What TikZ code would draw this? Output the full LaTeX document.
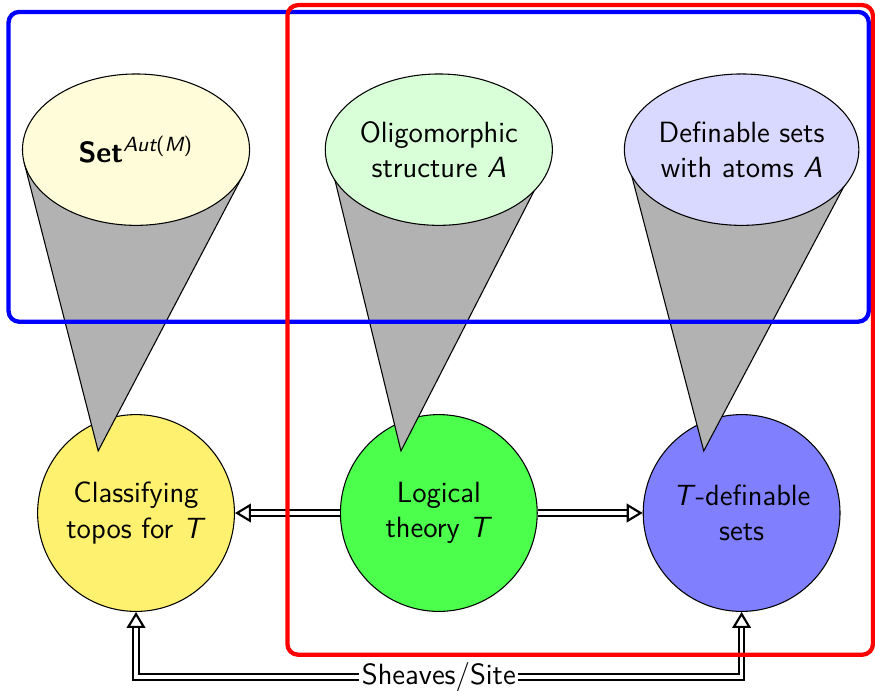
\documentclass[tikz,border=0pt]{standalone}
\usepackage{amsmath}
\usepackage{amssymb}
\usetikzlibrary{shapes.geometric,arrows.meta,calc}
\definecolor{toposyellow}{RGB}{255,241,112}

\begin{document}
\begin{tikzpicture}[font=\sffamily\fontsize{11}{13.3}\selectfont,
  >={Triangle[open,length=6pt,width=7pt]},
  bigcircle/.style={circle,draw,minimum size=2.6cm,align=center},
  topell/.style={ellipse,draw,inner sep=0pt,minimum width=3cm,minimum height=2cm,align=center},
  cone/.style={draw,fill=gray!60},
  dbl/.style={thick,double,double distance=1.3pt},
  frame/.style={ultra thick,rounded corners}]
\useasboundingbox (-1.797,-2.351) rectangle (9.762,6.777);
\node[bigcircle,fill=toposyellow] (classify) at (0,0) {Classifying\\topos for \textit{T}};
\node[bigcircle,fill=green!70] (theory) at (4,0) {Logical\\theory \textit{T}};
\node[bigcircle,fill=blue!50] (tdef) at (8,0) {\textit{T}-definable\\sets};
\coordinate (topA) at (0,4.8);
\coordinate (topB) at (4,4.8);
\coordinate (topC) at (8,4.8);
\filldraw[cone] ($(classify)+(-0.5,0.82)$) -- ($(topA)+(190:1.5 and 1)$) -- ($(topA)+(-19:1.5 and 1)$) -- cycle;
\filldraw[cone] ($(theory)+(-0.5,0.82)$) -- ($(topB)+(190:1.45 and 1)$) -- ($(topB)+(-19:1.45 and 1)$) -- cycle;
\filldraw[cone] ($(tdef)+(-0.5,0.82)$) -- ($(topC)+(190:1.52 and 1)$) -- ($(topC)+(-19:1.52 and 1)$) -- cycle;
\node[topell,fill=yellow!15] (setaut) at (topA) {\textbf{Set}\textsuperscript{\itshape Aut\upshape(\itshape M\upshape)}};
\node[topell,fill=green!15] (oligo) at (topB) {Oligomorphic\\structure \textit{A}};
\node[topell,fill=blue!15] (atoms) at (topC) {Definable sets\\with atoms \textit{A}};
\draw[dbl,->] (theory) -- (classify);
\draw[dbl,->] (theory) -- (tdef);
\draw[dbl,<->] (classify.south) -- ++(0,-0.86) -| node[pos=0.25,fill=white,inner sep=1pt] {Sheaves/Site} (tdef.south);
\draw[frame,blue] (-1.684,2.527) rectangle (9.68,6.62);
\draw[frame,red] (2.0,-1.872) rectangle (9.735,6.71);
\end{tikzpicture}
\end{document}
